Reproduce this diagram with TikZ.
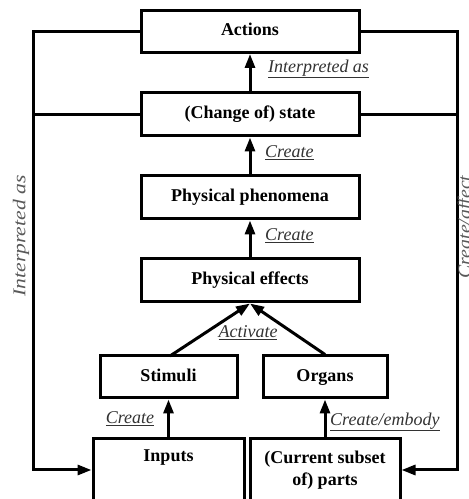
\documentclass[tikz,border=0pt]{standalone}
\usepackage{fontspec}
\setmainfont{Liberation Serif}
\usetikzlibrary{arrows.meta}
\begin{document}
\begin{tikzpicture}[x=1pt,y=1pt,
  box/.style={draw=black, line width=3pt, fill=white, inner sep=0pt,
    font=\fontsize{18}{22}\selectfont\bfseries, align=center},
  onel/.style={text height=12.5pt, text depth=4pt},
  conn/.style={line width=3pt},
  arr/.style={line width=3pt, -{Triangle[length=14pt,width=10pt]}},
  lab/.style={font=\fontsize{18}{22}\selectfont\itshape, text=black!80, inner sep=0pt},
  sidelab/.style={font=\fontsize{18}{22}\selectfont\itshape, text=black!65, inner sep=0pt, rotate=90}]
\useasboundingbox (0,0) rectangle (469,499);
\node[box, onel, minimum width=218pt, minimum height=42pt] (act) at (250,467.5) {Actions};
\node[box, onel, minimum width=218pt, minimum height=43pt] (state) at (250,384.5) {(Change of) state};
\node[box, onel, minimum width=218pt, minimum height=43pt] (phen) at (250,301.5) {Physical phenomena};
\node[box, onel, minimum width=218pt, minimum height=43pt] (eff) at (250,218.5) {Physical effects};
\node[box, onel, minimum width=137pt, minimum height=42pt] (stim) at (168.5,122) {Stimuli};
\node[box, onel, minimum width=124pt, minimum height=42pt] (org) at (325,122) {Organs};
\node[box, minimum width=151pt, minimum height=62pt] (inp) at (168.5,29) {Inputs\\[0pt]\strut};
\node[box, minimum width=150pt, minimum height=62pt] (parts) at (325,29) {(Current subset\\of) parts};

\coordinate (l1) at (33,467.5);
\coordinate (l2) at (33,384.5);
\coordinate (l3) at (33,29);
\coordinate (r1) at (457,467.5);
\coordinate (r2) at (457,384.5);
\coordinate (r3) at (457,29);
\coordinate (stimtop) at (170,143);

\draw[arr] (state.north) -- (act.south);
\draw[arr] (phen.north) -- (state.south);
\draw[arr] (eff.north) -- (phen.south);
\draw[arr] (stimtop) -- (eff.south);
\draw[arr] (org.north) -- (eff.south);
\draw[arr] (inp.north) -- (stim.south);
\draw[arr] (parts.north) -- (org.south);

\draw[conn, line cap=rect] (act.west) -- (l1) -- (l3);
\draw[conn] (state.west) -- (l2);
\draw[arr] (l3) -- (inp.west);
\draw[conn, line cap=rect] (act.east) -- (r1) -- (r3);
\draw[conn] (state.east) -- (r2);
\draw[arr] (r3) -- (parts.east);

\node[lab, anchor=west] (t1) at (268,430) {\underline{Interpreted as}};
\node[lab, anchor=west] (t2) at (265,346) {\underline{Create}};
\node[lab, anchor=west] (t3) at (265,263) {\underline{Create}};
\node[lab] (t4) at (248,166) {\underline{Activate}};
\node[lab] (t5) at (130,80) {\underline{Create}};
\node[lab, anchor=west] (t6) at (330,77) {\underline{Create/embody}};
\node[sidelab] (s1) at (21,263) {\scalebox{1.2}[1]{Interpreted as}};
\node[sidelab] (s2) at (466,272) {\scalebox{1.1}[1]{Create/affect}};
\end{tikzpicture}
\end{document}
